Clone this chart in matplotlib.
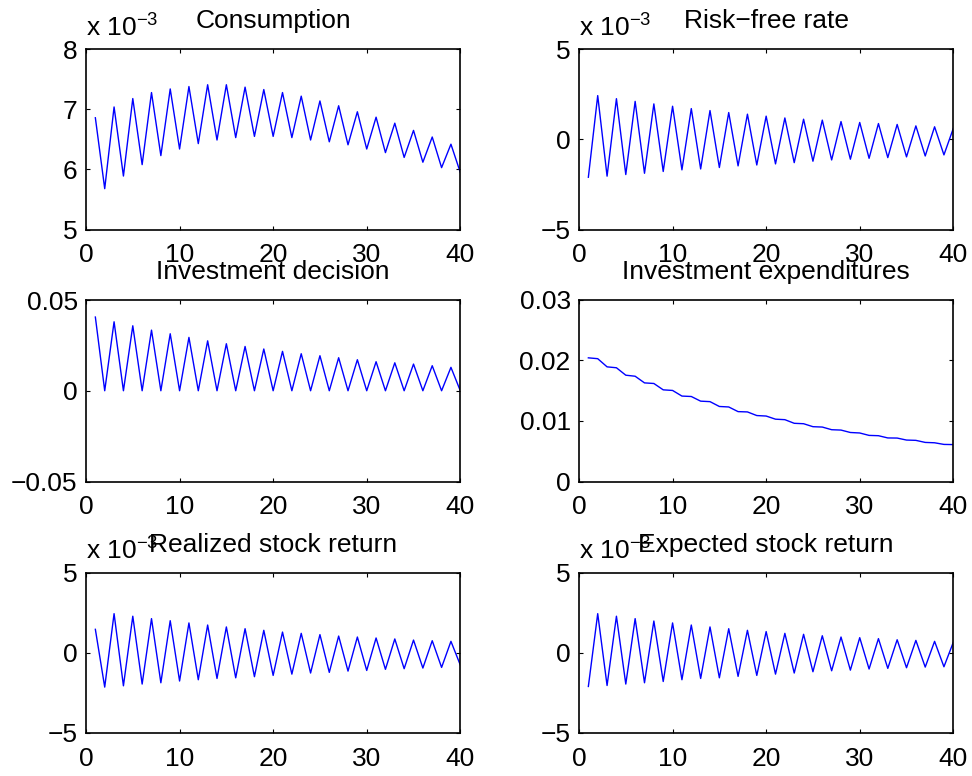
import numpy as np
import matplotlib
matplotlib.use('Agg')
import matplotlib.pyplot as plt

plt.rcParams['font.family'] = ['Liberation Sans', 'DejaVu Sans']
plt.rcParams['mathtext.default'] = 'regular'
plt.rcParams['font.size'] = 19

periods = np.arange(1, 41)

# responses over 40 periods (first, second and last two rows in units of 1e-3)
consumption = [6.86, 5.68, 7.04, 5.89, 7.18, 6.08, 7.28, 6.23, 7.34, 6.34,
               7.38, 6.43, 7.41, 6.49, 7.41, 6.53, 7.37, 6.55, 7.33, 6.55,
               7.28, 6.53, 7.22, 6.49, 7.14, 6.46, 7.06, 6.41, 6.96, 6.34,
               6.87, 6.28, 6.77, 6.20, 6.65, 6.12, 6.54, 6.03, 6.42, 5.95]
risk_free = [-2.10, 2.43, -2.04, 2.26, -1.95, 2.11, -1.88, 1.97, -1.78, 1.84,
             -1.69, 1.71, -1.64, 1.60, -1.56, 1.49, -1.47, 1.40, -1.42, 1.29,
             -1.36, 1.19, -1.29, 1.12, -1.21, 1.07, -1.14, 0.99, -1.10, 0.94,
             -1.05, 0.88, -1.01, 0.83, -0.97, 0.75, -0.92, 0.70, -0.86, 0.61]
inv_decision = [0.0406, 0.0, 0.0380, 0.0, 0.0358, 0.0, 0.0334, 0.0, 0.0314, 0.0,
                0.0294, 0.0, 0.0275, 0.0, 0.0259, 0.0, 0.0244, 0.0, 0.0230, 0.0,
                0.0217, 0.0, 0.0204, 0.0, 0.0193, 0.0, 0.0182, 0.0, 0.0171, 0.0,
                0.0160, 0.0, 0.0154, 0.0, 0.0147, 0.0, 0.0138, 0.0, 0.0129, 0.0]
inv_expend = [0.02044, 0.02030, 0.01895, 0.01880, 0.01757, 0.01740, 0.01630, 0.01620,
              0.01515, 0.01505, 0.01412, 0.01405, 0.01328, 0.01320, 0.01240, 0.01232,
              0.01155, 0.01150, 0.01090, 0.01082, 0.01030, 0.01022, 0.00962, 0.00955,
              0.00906, 0.00900, 0.00856, 0.00850, 0.00810, 0.00802, 0.00762, 0.00757,
              0.00720, 0.00718, 0.00685, 0.00680, 0.00646, 0.00640, 0.00613, 0.00610]
realized_ret = [1.46, -2.15, 2.44, -2.07, 2.28, -1.96, 2.13, -1.88, 2.00, -1.77,
                1.86, -1.69, 1.73, -1.61, 1.61, -1.57, 1.50, -1.50, 1.40, -1.42,
                1.29, -1.34, 1.21, -1.27, 1.13, -1.23, 1.04, -1.15, 0.98, -1.11,
                0.92, -1.04, 0.86, -1.00, 0.79, -0.96, 0.75, -0.92, 0.71, -0.77]
expected_ret = [-2.11, 2.44, -2.05, 2.28, -1.96, 2.13, -1.88, 1.98, -1.80, 1.86,
                -1.69, 1.73, -1.61, 1.61, -1.57, 1.50, -1.48, 1.40, -1.42, 1.32,
                -1.34, 1.21, -1.27, 1.15, -1.19, 1.06, -1.13, 0.98, -1.09, 0.94,
                -1.02, 0.88, -0.98, 0.81, -0.94, 0.77, -0.90, 0.71, -0.88, 0.65]

titles = ['Consumption', 'Risk\u2212free rate', 'Investment decision',
          'Investment expenditures', 'Realized stock return', 'Expected stock return']
series = [consumption, risk_free, inv_decision, inv_expend, realized_ret, expected_ret]
ylims = [(5, 8), (-5, 5), (-0.05, 0.05), (0, 0.03), (-5, 5), (-5, 5)]
yticks = [[5, 6, 7, 8], [-5, 0, 5], [-0.05, 0, 0.05], [0, 0.01, 0.02, 0.03],
          [-5, 0, 5], [-5, 0, 5]]
ytlabels = [['5', '6', '7', '8'], ['\u22125', '0', '5'], ['\u22120.05', '0', '0.05'],
            ['0', '0.01', '0.02', '0.03'], ['\u22125', '0', '5'], ['\u22125', '0', '5']]
scaled = [True, True, False, False, True, True]

W, H = 972, 776
fig = plt.figure(figsize=(W / 100, H / 100), dpi=100)

# axes boxes in pixels: (left, right) per column, (top, bottom) per row
cols = [(86, 460.3), (579, 953.3)]
rows = [(49.3, 229.5), (300, 481.5), (572.7, 732.7)]

for i in range(6):
    (x0, x1), (y0, y1) = cols[i % 2], rows[i // 2]
    ax = fig.add_axes([x0 / W, 1 - y1 / H, (x1 - x0) / W, (y1 - y0) / H])
    ax.plot(periods, series[i], color='#0000ff', lw=1.0)
    ax.set_xlim(0, 40)
    ax.set_ylim(*ylims[i])
    ax.set_xticks([0, 10, 20, 30, 40])
    ax.set_yticks(yticks[i])
    ax.set_yticklabels(ytlabels[i])
    ax.tick_params(direction='in', top=True, right=True, length=3, width=0.8,
                   labelsize=19)
    ax.tick_params(axis='x', pad=10)
    ax.tick_params(axis='y', pad=6)
    for sp in ax.spines.values():
        sp.set_linewidth(1.2)
    ax.set_title(titles[i], fontsize=19, pad=15)
    if scaled[i]:
        # exponent label sits just above the top-left corner
        ax.text(0, 1 + 13 / (y1 - y0), 'x 10$^{\u22123}$', transform=ax.transAxes,
                ha='left', va='baseline', fontsize=19)

fig.savefig('out.png', dpi=100)
